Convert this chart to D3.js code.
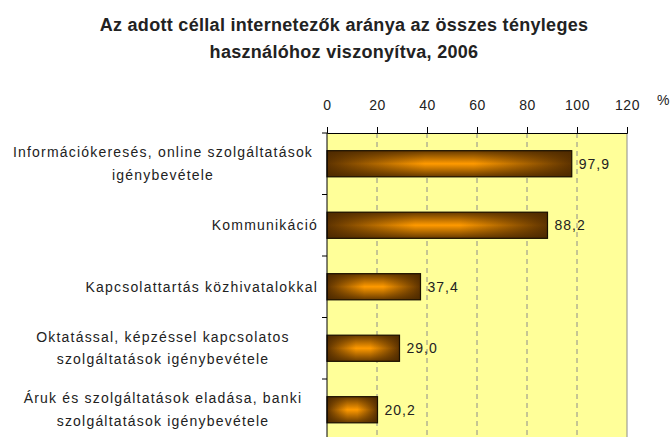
<!DOCTYPE html>
<html>
<head>
<meta charset="utf-8">
<script src="https://cdn.jsdelivr.net/npm/d3@7"></script>
<style>
  body { margin: 0; background: #fff; }
  svg text { font-family: "Liberation Sans", Arial, sans-serif; fill: #222; }
  .title { font-family: "Liberation Sans Narrow", "Liberation Sans", Arial, sans-serif; font-weight: bold; font-size: 18px; letter-spacing: 0.3px; }
  .lbl { font-size: 14px; letter-spacing: 1px; }
  .cat { font-size: 14px; letter-spacing: 1.2px; }
</style>
</head>
<body>
<div id="chart"></div>
<script>
// ---- data ----
const categories = [
  ["Információkeresés, online szolgáltatások", "igénybevétele"],
  ["Kommunikáció"],
  ["Kapcsolattartás közhivatalokkal"],
  ["Oktatással, képzéssel kapcsolatos", "szolgáltatások igénybevétele"],
  ["Áruk és szolgáltatások eladása, banki", "szolgáltatások igénybevétele"]
];
const values = [97.9, 88.2, 37.4, 29.0, 20.2];
const xTicks = [0, 20, 40, 60, 80, 100, 120];
const titleLines = ["Az adott céllal internetezők aránya az összes tényleges", "használóhoz viszonyítva, 2006"];

(function () {
  const W = 671, H = 437;
  const margin = { left: 327, top: 133 };
  const plotW = 300, plotH = 307.5;

  const svg = d3.select("#chart").append("svg")
    .attr("width", W).attr("height", H);

  // gradients for the bars
  const defs = svg.append("defs");
  const hg = defs.append("linearGradient").attr("id", "hgrad")
    .attr("x1", 0).attr("x2", 1).attr("y1", 0).attr("y2", 0);
  hg.append("stop").attr("offset", "0%").attr("stop-color", "#5e3300");
  hg.append("stop").attr("offset", "40%").attr("stop-color", "#ff9a00");
  hg.append("stop").attr("offset", "60%").attr("stop-color", "#ff9a00");
  hg.append("stop").attr("offset", "100%").attr("stop-color", "#5e3300");
  const vg = defs.append("linearGradient").attr("id", "vgrad")
    .attr("x1", 0).attr("x2", 0).attr("y1", 0).attr("y2", 1);
  vg.append("stop").attr("offset", "0%").attr("stop-color", "#4a2800").attr("stop-opacity", 0.85);
  vg.append("stop").attr("offset", "50%").attr("stop-color", "#4a2800").attr("stop-opacity", 0);
  vg.append("stop").attr("offset", "100%").attr("stop-color", "#4a2800").attr("stop-opacity", 0.85);

  // title
  svg.selectAll(".title").data(titleLines).enter().append("text")
    .attr("class", "title")
    .attr("x", 344).attr("y", (d, i) => 31 + i * 27)
    .attr("text-anchor", "middle")
    .text(d => d);

  const g = svg.append("g").attr("transform", `translate(${margin.left},${margin.top})`);

  const x = d3.scaleLinear().domain([0, 120]).range([0, plotW]);
  const y = d3.scaleBand().domain(d3.range(categories.length)).range([0, plotH]).paddingInner(0.575).paddingOuter(0.2875);

  // plot background
  g.append("rect").attr("width", plotW).attr("height", plotH).attr("fill", "#ffff99");

  // dashed grid
  g.selectAll(".grid").data(xTicks.slice(1, -1)).enter().append("line")
    .attr("x1", d => x(d)).attr("x2", d => x(d))
    .attr("y1", 0).attr("y2", plotH)
    .attr("stroke", "#8c8c8c").attr("stroke-dasharray", "5,4");
  // right border
  g.append("line").attr("x1", plotW).attr("x2", plotW).attr("y1", 0).attr("y2", plotH)
    .attr("stroke", "#8c8c8c");

  // bars
  const bars = g.selectAll(".bar").data(values).enter().append("g");
  bars.append("rect")
    .attr("x", 0).attr("y", (d, i) => y(i))
    .attr("width", d => x(d)).attr("height", y.bandwidth())
    .attr("fill", "url(#hgrad)");
  bars.append("rect")
    .attr("x", 0).attr("y", (d, i) => y(i))
    .attr("width", d => x(d)).attr("height", y.bandwidth())
    .attr("fill", "url(#vgrad)")
    .attr("stroke", "#1a1000").attr("stroke-width", 1.2);

  // value labels
  g.selectAll(".val").data(values).enter().append("text")
    .attr("class", "lbl")
    .attr("x", d => x(d) + 7)
    .attr("y", (d, i) => y(i) + y.bandwidth() / 2)
    .attr("dy", "0.35em")
    .text(d => d.toFixed(1).replace(".", ","));

  // top axis
  const xAxis = d3.axisTop(x).tickValues(xTicks).tickSize(6).tickPadding(17);
  const xg = g.append("g").call(xAxis);
  xg.select(".domain").attr("stroke", "#000");
  xg.selectAll(".tick line").attr("stroke", "#000");
  xg.selectAll(".tick text").attr("class", "lbl").style("letter-spacing", "0.5px")
    .attr("fill", "#222");
  g.append("text").attr("class", "lbl").attr("x", plotW + 30).attr("y", -28).text("%");

  // left axis with ticks at band boundaries
  g.append("line").attr("x1", 0).attr("x2", 0).attr("y1", 0).attr("y2", plotH).attr("stroke", "#000");
  const step = plotH / categories.length;
  g.selectAll(".ytick").data(d3.range(categories.length + 1)).enter().append("line")
    .attr("x1", -5).attr("x2", 0)
    .attr("y1", d => d * step).attr("y2", d => d * step)
    .attr("stroke", "#000");

  // category labels
  const lh = 22.5;
  categories.forEach((lines, i) => {
    const cy = y(i) + y.bandwidth() / 2;
    const t = g.append("text").attr("class", "cat");
    lines.forEach((ln, j) => {
      t.append("tspan")
        .attr("x", lines.length > 1 ? -164 : -9)
        .attr("text-anchor", lines.length > 1 ? "middle" : "end")
        .attr("y", cy + (j - (lines.length - 1) / 2) * lh)
        .attr("dy", "0.35em")
        .text(ln);
    });
  });
})();
</script>
</body>
</html>
